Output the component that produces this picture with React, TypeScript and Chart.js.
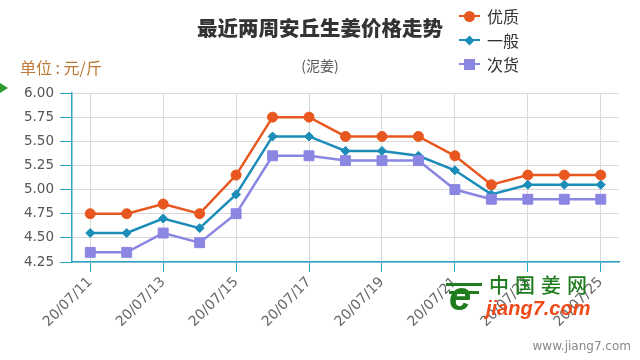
import React, { useEffect, useRef } from 'react';
import { Chart, registerables } from 'chart.js';

Chart.register(...registerables);

const categories = [
  '20/07/11', '20/07/12', '20/07/13', '20/07/14', '20/07/15',
  '20/07/16', '20/07/17', '20/07/18', '20/07/19', '20/07/20',
  '20/07/21', '20/07/22', '20/07/23', '20/07/24', '20/07/25',
];
const premiumValues = [4.75, 4.75, 4.85, 4.75, 5.15, 5.75, 5.75, 5.55, 5.55, 5.55, 5.35, 5.05, 5.15, 5.15, 5.15];
const normalValues = [4.55, 4.55, 4.70, 4.60, 4.95, 5.55, 5.55, 5.40, 5.40, 5.35, 5.20, 4.95, 5.05, 5.05, 5.05];
const lowValues = [4.35, 4.35, 4.55, 4.45, 4.75, 5.35, 5.35, 5.30, 5.30, 5.30, 5.00, 4.90, 4.90, 4.90, 4.90];
const seriesNames = ['优质', '一般', '次货'];
const yMin = 4.25;
const yMax = 6.0;
const yStep = 0.25;

const COLORS = ['#e8571f', '#1b8db8', '#8a86e2'];
const AXIS = '#2aa3c4';
const GRID = '#d9d9d9';

function LegendItem({ idx, top }: { idx: number; top: number }) {
  const color = COLORS[idx];
  let marker: React.CSSProperties;
  if (idx === 0) {
    marker = { width: 11, height: 11, borderRadius: '50%', left: 5, top: -5.5 };
  } else if (idx === 1) {
    marker = { width: 7, height: 7, transform: 'rotate(45deg)', left: 7, top: -3.5 };
  } else {
    marker = { width: 11, height: 11, left: 5, top: -5.5 };
  }
  return (
    <div style={{ position: 'absolute', left: 459, top, height: 0 }}>
      <div style={{ position: 'absolute', left: 0, top: -1.25, width: 21, height: 2.5, background: color }} />
      <div style={{ position: 'absolute', background: color, ...marker }} />
      <div
        style={{
          position: 'absolute', left: 28, top: -11, fontSize: 16, lineHeight: '22px',
          color: '#333', whiteSpace: 'nowrap', fontFamily: "'Noto Sans CJK SC', sans-serif",
        }}
      >
        {seriesNames[idx]}
      </div>
    </div>
  );
}

export default function App() {
  const canvasRef = useRef<HTMLCanvasElement | null>(null);

  useEffect(() => {
    document.body.style.margin = '0';
    const canvas = canvasRef.current;
    if (!canvas) return;
    const mk = (label: string, data: number[], i: number, style: string, radius: number) => ({
      label,
      data,
      borderColor: COLORS[i],
      backgroundColor: COLORS[i],
      borderWidth: 2.5,
      pointStyle: style,
      pointRadius: radius,
      pointBorderWidth: 1,
      pointBackgroundColor: COLORS[i],
      pointBorderColor: COLORS[i],
      tension: 0,
    });
    const chart = new Chart(canvas, {
      type: 'line',
      data: {
        labels: categories,
        datasets: [
          mk(seriesNames[2], lowValues, 2, 'rect', 7),
          mk(seriesNames[1], normalValues, 1, 'rectRot', 4.5),
          mk(seriesNames[0], premiumValues, 0, 'circle', 5),
        ],
      },
      options: {
        animation: false,
        responsive: false,
        layout: { padding: { top: 93, right: 21, left: 0, bottom: 0 } },
        plugins: {
          legend: { display: false },
          tooltip: { enabled: false },
          title: { display: false },
        },
        scales: {
          x: {
            offset: true,
            grid: {
              color: (ctx: any) => (ctx.index % 2 === 0 ? GRID : 'rgba(0,0,0,0)'),
              tickColor: (ctx: any) => (ctx.index % 2 === 0 ? AXIS : 'rgba(0,0,0,0)'),
              tickLength: 10,
              lineWidth: 1,
            },
            border: { color: AXIS, width: 1.5 },
            ticks: {
              autoSkip: false,
              maxRotation: 45,
              minRotation: 45,
              color: '#666',
              font: { family: "'DejaVu Sans', sans-serif", size: 14 },
              padding: 2,
              callback: (_v: any, i: number) => (i % 2 === 0 ? categories[i] : ''),
            },
            afterFit: (s: any) => {
              s.height = 98;
            },
          },
          y: {
            min: yMin,
            max: yMax,
            grid: { color: GRID, tickColor: AXIS, tickLength: 12, lineWidth: 1 },
            border: { color: AXIS, width: 1.5 },
            ticks: {
              stepSize: yStep,
              color: '#555',
              font: { family: "'DejaVu Sans', sans-serif", size: 13.5 },
              padding: 6,
              callback: (v: any) => Number(v).toFixed(2),
            },
            afterFit: (s: any) => {
              s.width = 72;
            },
          },
        },
      },
    } as any);
    return () => chart.destroy();
  }, []);

  const cjk = "'Noto Sans CJK SC', sans-serif";

  return (
    <div style={{ position: 'relative', width: 640, height: 360, overflow: 'hidden', background: '#fff' }}>
      <canvas ref={canvasRef} width={640} height={360} style={{ position: 'absolute', left: 0, top: 0 }} />
      <div
        style={{
          position: 'absolute', left: 0, width: 640, top: 13, textAlign: 'center', fontSize: 20.5,
          lineHeight: '28px', fontWeight: 900, color: '#333', fontFamily: cjk,
        }}
      >
        最近两周安丘生姜价格走势
      </div>
      <div
        style={{
          position: 'absolute', left: 0, width: 640, top: 55, textAlign: 'center', fontSize: 14,
          lineHeight: '20px', color: '#555', fontFamily: cjk,
        }}
      >
        (泥姜)
      </div>
      <LegendItem idx={0} top={16} />
      <LegendItem idx={1} top={40} />
      <LegendItem idx={2} top={64} />
      <div
        style={{
          position: 'absolute', left: 20, top: 57, fontSize: 16, lineHeight: '20px',
          color: '#bd7a36', fontFamily: cjk, whiteSpace: 'nowrap',
        }}
      >
        单位 : 元/斤
      </div>
      <div
        style={{
          position: 'absolute', left: 0, top: 83, width: 0, height: 0,
          borderTop: '5px solid transparent', borderBottom: '5px solid transparent',
          borderLeft: '8px solid #2e9a2e',
        }}
      />
      {/* watermark logo */}
      <div style={{ position: 'absolute', left: 446, top: 283, width: 36, height: 3, background: '#1f7d1f' }} />
      <div style={{ position: 'absolute', left: 449, top: 291, width: 30, height: 3, background: '#1f7d1f' }} />
      <div
        style={{
          position: 'absolute', left: 449, top: 276, fontSize: 40, lineHeight: '40px', fontWeight: 'bold',
          color: '#1f7d1f', fontFamily: "'Liberation Sans', sans-serif", fontStyle: 'italic',
        }}
      >
        e
      </div>
      <div
        style={{
          position: 'absolute', left: 489, top: 272, fontSize: 20, lineHeight: '26px', letterSpacing: 6,
          fontWeight: 500, color: '#1f7d1f', fontFamily: cjk, whiteSpace: 'nowrap',
        }}
      >
        中国姜网
      </div>
      <div
        style={{
          position: 'absolute', left: 486, top: 296, fontSize: 20, lineHeight: '24px', fontWeight: 'bold',
          fontStyle: 'italic', color: '#ee4a1a', fontFamily: "'Liberation Sans', sans-serif", whiteSpace: 'nowrap',
        }}
      >
        jiang7.com
      </div>
      <div
        style={{
          position: 'absolute', right: 9, top: 338, fontSize: 12, lineHeight: '16px', color: '#888',
          fontFamily: "'DejaVu Sans', sans-serif", whiteSpace: 'nowrap',
        }}
      >
        www.jiang7.com
      </div>
    </div>
  );
}
